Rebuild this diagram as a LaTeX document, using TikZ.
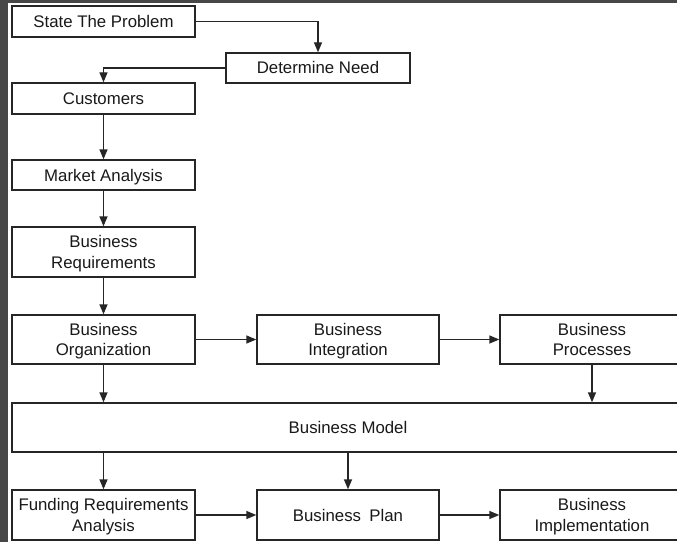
\documentclass[tikz,border=0pt]{standalone}
\usepackage{fontspec}
\setmainfont{Liberation Sans}
\usetikzlibrary{arrows.meta}
\newcommand\ms{\rule[-4pt]{0pt}{20pt}}
\begin{document}
\begin{tikzpicture}[x=1pt,y=1pt,
  box/.style={draw=black!85,line width=1.4pt,fill=white,inner sep=0pt,align=center,
    font=\fontsize{16.8}{20.5}\selectfont,text=black!90},
  arr/.style={draw=black!85,line width=1.4pt,-{Triangle[length=10pt,width=8pt]}}]
\useasboundingbox (0,0) rectangle (677,542);
\clip (0,0) rectangle (677,542);
\fill[white] (0,0) rectangle (677,542);
\fill[black!72] (0,0) rectangle (8,542);
\fill[black!72] (0,539) rectangle (677,542);
% boxes (y = 542 - pixel y)
\node[box,minimum width=183pt,minimum height=31pt] (sp) at (103.5,520.5) {State The Problem\ms};
\node[box,minimum width=184pt,minimum height=30pt] (dn) at (318,474) {Determine Need\ms};
\node[box,minimum width=183pt,minimum height=31pt] (cu) at (103.5,443.5) {Customers\ms};
\node[box,minimum width=183pt,minimum height=30pt] (ma) at (103.5,367) {Market Analysis\ms};
\node[box,minimum width=183pt,minimum height=50pt] (br) at (103.5,290) {Business\ms\\Requirements\ms};
\node[box,minimum width=183pt,minimum height=49pt] (bo) at (103.5,202.5) {Business\ms\\Organization\ms};
\node[box,minimum width=182pt,minimum height=49pt] (bi) at (348,202.5) {Business\ms\\Integration\ms};
\node[box,minimum width=184pt,minimum height=49pt] (bp) at (592,202.5) {Business\ms\\Processes\ms};
\node[box,minimum width=700pt,minimum height=49pt] (bm) at (362,114.5) {};
\node[font=\fontsize{16.8}{20.5}\selectfont,text=black!90,inner sep=0pt] (bmt) at (348,114.5) {Business Model\ms};
\node[box,minimum width=183pt,minimum height=50pt] (fr) at (103.5,27) {Funding Requirements\ms\\Analysis\ms};
\node[box,minimum width=182pt,minimum height=50pt] (pl) at (348,27) {Business\enspace Plan\ms};
\node[box,minimum width=184pt,minimum height=50pt] (im) at (592,27) {Business\ms\\Implementation\ms};
% connectors
\draw[arr] (sp.east) -| (dn.north);
\draw[arr] (dn.west) -| (cu.north);
\draw[arr] (cu) -- (ma);
\draw[arr] (ma) -- (br);
\draw[arr] (br) -- (bo);
\draw[arr] (bo) -- (bi);
\draw[arr] (bi) -- (bp);
\draw[arr] (bo.south) -- (bo.south |- bm.north);
\draw[arr] (bp.south) -- (bp.south |- bm.north);
\draw[arr] (bo.south |- bm.south) -- (fr.north);
\draw[arr] (pl.north |- bm.south) -- (pl.north);
\draw[arr] (fr) -- (pl);
\draw[arr] (pl) -- (im);
\end{tikzpicture}
\end{document}
